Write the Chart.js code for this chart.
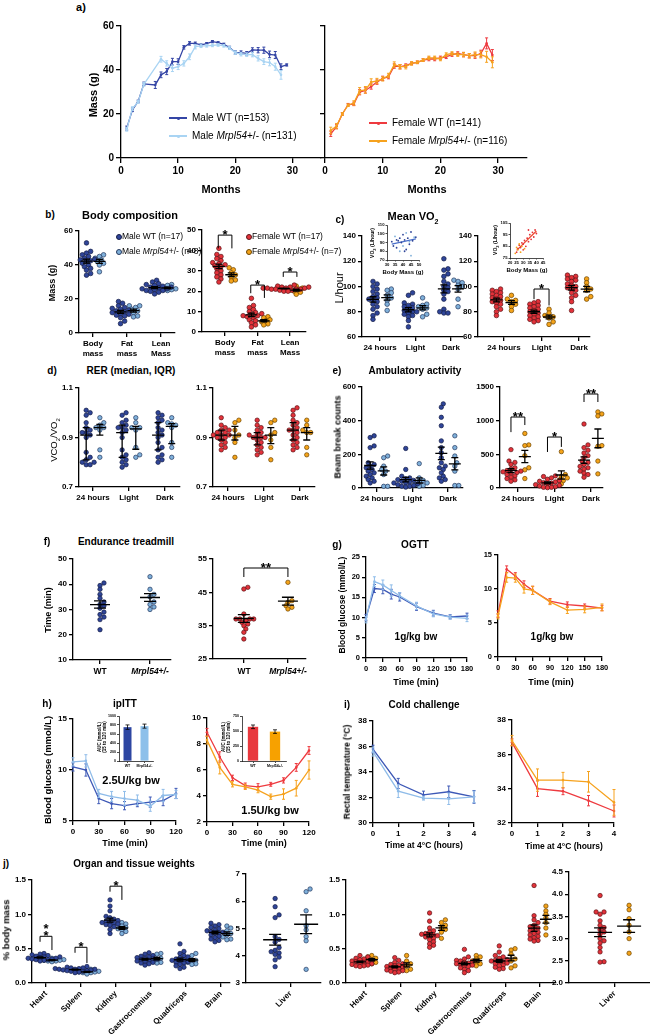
<!DOCTYPE html>
<html>
<head>
<meta charset="utf-8">
<title>Mrpl54 phenotype panels</title>
<script src="https://cdn.jsdelivr.net/npm/chart.js@4.4.1/dist/chart.umd.min.js"></script>
<style>
  body { margin: 0; width: 650px; height: 1034px; position: relative; overflow: hidden; background: #fff;
         font-family: "Liberation Sans", Arial, Helvetica, sans-serif; }
  canvas { position: absolute; }
  .t { position: absolute; white-space: nowrap; font-weight: bold; color: #000; line-height: 1; text-align: center; }
  .sw { position: absolute; }
</style>
</head>
<body>
<script>
// ---------- a) body mass with age ----------
const mWtMonths = [1, 2, 3, 4, 6, 7, 8, 9, 10, 11, 12, 13, 14, 15, 16, 17, 18, 19, 20, 21, 22, 23, 24, 25, 26, 27, 28, 29];
const mWtMass = [13.6, 21.9, 25.7, 33.7, 33.2, 37.8, 39.3, 43.8, 43.8, 50.3, 52.1, 52.1, 51.4, 52.0, 52.9, 52.4, 51.7, 50.2, 48.0, 47.9, 47.6, 49.1, 49.0, 49.0, 47.1, 46.8, 41.5, 42.3];
const mWtSem = [0.9, 0.8, 0.6, 0.8, 1.6, 1.3, 1.4, 1.5, 1.3, 0.8, 0.8, 0.6, 0.5, 0.5, 0.5, 0.5, 0.5, 0.6, 0.8, 0.8, 0.8, 1.0, 1.2, 1.4, 1.5, 1.6, 1.3, 0.5];
const mMutMonths = [1, 2, 3, 4, 7, 8, 9, 10, 11, 12, 13, 14, 15, 16, 17, 18, 19, 20, 21, 22, 23, 24, 25, 26, 27, 28];
const mMutMass = [13.0, 22.5, 25.5, 33.5, 44.9, 43.0, 40.8, 41.5, 43.0, 46.0, 50.6, 51.0, 51.0, 51.2, 51.4, 51.0, 50.0, 47.9, 47.2, 47.0, 47.0, 45.3, 43.8, 43.4, 41.5, 37.8];
const mMutSem = [0.8, 0.8, 0.6, 0.8, 1.3, 1.2, 1.5, 1.3, 1.2, 1.3, 1.0, 0.8, 0.6, 0.6, 0.6, 0.6, 0.7, 0.8, 0.8, 0.8, 1.0, 1.2, 1.3, 1.5, 1.6, 2.0];
const fMonths = [1, 2, 3, 4, 5, 6, 7, 8, 9, 10, 11, 12, 13, 14, 15, 16, 17, 18, 19, 20, 21, 22, 23, 24, 25, 26, 27, 28, 29];
const fWtMass = [11.0, 14.3, 20.0, 24.2, 24.6, 29.9, 30.7, 32.5, 34.5, 36.2, 36.8, 41.8, 41.5, 42.0, 43.0, 43.5, 44.5, 45.0, 45.0, 45.5, 46.0, 47.0, 47.5, 47.0, 46.5, 46.5, 47.5, 52.1, 46.8];
const fWtSem = [1.2, 1.0, 0.6, 0.6, 0.8, 1.2, 1.2, 1.2, 1.0, 1.0, 0.8, 1.0, 1.0, 0.8, 0.6, 0.6, 0.6, 0.8, 0.8, 0.8, 0.8, 0.8, 0.8, 1.0, 1.0, 1.2, 1.5, 2.5, 2.5];
const fMutMass = [12.5, 14.5, 20.0, 24.0, 25.0, 30.5, 31.0, 34.5, 35.0, 36.0, 37.5, 42.5, 41.5, 41.5, 43.0, 43.5, 44.5, 45.5, 45.5, 45.0, 47.0, 47.5, 47.0, 47.0, 46.5, 47.0, 47.0, 46.0, 43.5];
const fMutSem = [1.5, 1.2, 0.6, 0.6, 1.0, 1.5, 1.5, 1.5, 1.2, 1.0, 1.0, 1.2, 1.0, 1.0, 0.8, 0.6, 0.6, 0.8, 0.8, 0.8, 0.8, 0.8, 0.8, 1.0, 1.0, 1.2, 1.5, 2.5, 2.5];

// ---------- b) body composition (g) ----------
const compCats = [["Body", "mass"], ["Fat", "mass"], ["Lean", "Mass"]];
const bMaleWtBody = [53, 48, 47, 46, 45, 44, 43.5, 43, 42.5, 42, 41, 40, 39, 38, 37, 35, 34];
const bMaleMutBody = [46, 45, 44, 43, 42, 41, 40, 36];
const bMaleWtFat = [18.5, 17.5, 16, 15, 14.5, 14, 13.5, 13, 12.5, 12, 11.5, 11, 10.5, 10, 9, 7, 5.5];
const bMaleMutFat = [16, 16, 15, 14, 13, 12, 10, 9.5];
const bMaleWtLean = [31, 30, 29, 28.5, 28, 27.5, 27, 27, 26.5, 26, 26, 25.5, 25, 25, 24.5, 24, 23];
const bMaleMutLean = [28.5, 28, 27, 26.5, 26, 25.5, 25.5, 25];
const bFemWtBody = [41, 38, 37, 36, 35, 34, 33.5, 33, 32.5, 32, 31, 30, 29, 28, 27, 26, 24.5];
const bFemMutBody = [31.5, 30.5, 29, 28, 27, 25.5, 25];
const bFemWtFat = [16.5, 13, 12, 11, 10, 9.5, 9, 8.5, 8, 8, 7.5, 7, 6, 5.5, 4.5, 3.5, 2.5];
const bFemMutFat = [7.5, 7, 6, 5.5, 5, 4, 3.5];
const bFemWtLean = [23, 22.5, 22, 22, 22, 21.5, 21.5, 21.5, 21.5, 21, 21, 21, 21, 20.5, 20.5, 20, 20];
const bFemMutLean = [22.5, 21.5, 21, 20.5, 20, 19.5, 18.5];

// ---------- c) mean VO2 (L/hour) ----------
const phaseCats = ["24 hours", "Light", "Dark"];
const cMaleWt24 = [104, 102, 100, 98, 96, 94, 92, 91, 90, 89, 88, 86, 84, 82, 79, 77, 74];
const cMaleMut24 = [98, 97, 95, 93, 91, 89, 86, 81];
const cMaleWtLight = [95, 93, 87, 86, 85, 84, 83, 82, 81, 80, 80, 79, 78, 77, 76, 73, 68];
const cMaleMutLight = [91, 86, 85, 84, 83, 82, 78, 76];
const cMaleWtDark = [122, 114, 113, 110, 108, 104, 102, 100, 99, 97, 96, 94, 90, 82, 80, 79, 79];
const cMaleMutDark = [105, 104, 103, 101, 100, 98, 90, 84];
const cFemWt24 = [98, 97, 96, 95, 94, 93, 92, 91, 90, 89, 88, 87, 86, 84, 82, 80, 77];
const cFemMut24 = [93, 90, 89, 88, 86, 84, 81];
const cFemWtLight = [88, 87, 86, 85, 84, 83, 82, 81, 80, 79, 78, 77, 76, 75, 74, 73, 72];
const cFemMutLight = [82, 79, 77, 76, 75, 72, 70];
const cFemWtDark = [109, 108, 107, 106, 105, 104, 102, 101, 100, 99, 98, 97, 95, 93, 91, 88, 81];
const cFemMutDark = [106, 103, 100, 98, 97, 92, 90];
// insets: VO2 vs body mass
const insMaleWtMass = [33, 34, 36, 36, 37, 38, 39, 40, 41, 41, 42, 43, 44, 45, 46, 48];
const insMaleWtVo2 = [91, 86, 84, 93, 92, 95, 90, 99, 93, 80, 82, 95, 88, 102, 92, 96];
const insMaleMutMass = [35, 38, 40, 42, 44, 45, 47];
const insMaleMutVo2 = [97, 80, 86, 101, 91, 75, 96];
const insFemWtMass = [25, 26, 27, 28, 29, 30, 31, 32, 33, 34, 35, 36, 37, 38, 39, 40, 30, 34];
const insFemWtVo2 = [80, 83, 86, 84, 88, 87, 90, 85, 92, 89, 95, 91, 97, 93, 99, 96, 82, 99];
const insFemMutMass = [24, 25, 26, 27, 28, 29, 31];
const insFemMutVo2 = [79, 84, 82, 87, 80, 85, 83];

// ---------- d) RER ----------
const dMaleWt24 = [1.01, 1.0, 0.99, 0.96, 0.94, 0.93, 0.92, 0.92, 0.91, 0.9, 0.84, 0.82, 0.81, 0.8, 0.8, 0.79, 0.79];
const dMaleMut24 = [0.98, 0.96, 0.95, 0.94, 0.94, 0.93, 0.85, 0.82];
const dMaleWtLight = [1.0, 0.99, 0.97, 0.96, 0.95, 0.94, 0.94, 0.93, 0.92, 0.9, 0.85, 0.83, 0.82, 0.81, 0.8, 0.79, 0.78];
const dMaleMutLight = [0.98, 0.96, 0.94, 0.94, 0.93, 0.86, 0.83, 0.82];
const dMaleWtDark = [1.0, 0.99, 0.98, 0.97, 0.96, 0.94, 0.93, 0.92, 0.91, 0.9, 0.88, 0.86, 0.85, 0.83, 0.82, 0.81, 0.8];
const dMaleMutDark = [0.98, 0.96, 0.955, 0.95, 0.94, 0.88, 0.86, 0.82];
const dFemWt24 = [0.98, 0.95, 0.94, 0.93, 0.93, 0.92, 0.92, 0.91, 0.91, 0.91, 0.9, 0.9, 0.89, 0.88, 0.87, 0.86, 0.85];
const dFemMut24 = [0.97, 0.96, 0.93, 0.91, 0.9, 0.88, 0.82];
const dFemWtLight = [0.97, 0.95, 0.94, 0.93, 0.92, 0.91, 0.91, 0.9, 0.9, 0.9, 0.89, 0.88, 0.87, 0.86, 0.85, 0.84, 0.83];
const dFemMutLight = [0.97, 0.96, 0.92, 0.91, 0.89, 0.86, 0.81];
const dFemWtDark = [1.02, 1.01, 0.99, 0.97, 0.96, 0.95, 0.94, 0.93, 0.93, 0.92, 0.91, 0.9, 0.89, 0.88, 0.87, 0.86, 0.85];
const dFemMutDark = [0.97, 0.95, 0.93, 0.92, 0.92, 0.86, 0.83];

// ---------- e) ambulatory activity (beam breaks) ----------
const eMaleWt24 = [310, 300, 250, 240, 150, 140, 130, 120, 110, 100, 90, 80, 70, 60, 50, 40, 30];
const eMaleMut24 = [190, 180, 130, 110, 100, 80, 10, 10];
const eMaleWtLight = [235, 110, 70, 60, 55, 50, 45, 40, 35, 30, 30, 25, 20, 15, 10, 10, 5];
const eMaleMutLight = [145, 60, 45, 35, 30, 20, 15, 10];
const eMaleWtDark = [500, 480, 420, 370, 280, 240, 210, 180, 150, 130, 120, 110, 90, 70, 60, 50, 40];
const eMaleMutDark = [310, 240, 190, 150, 130, 100, 15, 15];
const eFemWt24 = [570, 400, 380, 350, 300, 280, 260, 250, 240, 230, 220, 200, 180, 160, 140, 120, 100];
const eFemMut24 = [810, 640, 630, 480, 300, 270, 140];
const eFemWtLight = [180, 170, 150, 130, 110, 100, 90, 80, 70, 60, 50, 40, 30, 20, 10, 10, 5];
const eFemMutLight = [540, 200, 170, 150, 120, 110, 60];
const eFemWtDark = [950, 640, 600, 560, 520, 480, 450, 400, 380, 350, 320, 300, 280, 250, 220, 200, 160];
const eFemMutDark = [1130, 1100, 1070, 630, 620, 400, 210];

// ---------- f) endurance treadmill (min) ----------
const fMaleWt = [40.5, 39.5, 38, 36, 34.5, 33, 32, 31.5, 30.5, 29, 28, 27, 26, 22];
const fMaleMut = [43, 38, 36, 35, 33, 32, 31, 30];
const fFemWt = [46.5, 46, 38.5, 37, 37, 37, 37, 36.5, 36, 35.5, 35, 34, 33, 31];
const fFemMut = [48, 42.5, 42, 41, 40.5, 40];

// ---------- g) OGTT ----------
const ogttTime = [0, 15, 30, 45, 60, 90, 120, 150, 180];
const gMaleWt = [10.0, 17.2, 17.0, 15.8, 15.1, 12.7, 11.1, 10.2, 10.4];
const gMaleWtSem = [0.8, 1.0, 1.1, 1.2, 1.0, 0.9, 0.7, 0.5, 0.7];
const gMaleMut = [9.5, 18.9, 18.1, 16.7, 15.4, 12.9, 10.9, 10.1, 9.8];
const gMaleMutSem = [0.8, 1.2, 1.2, 1.4, 0.8, 0.9, 0.7, 0.5, 0.8];
const gFemWt = [6.3, 12.9, 11.9, 10.7, 9.8, 8.2, 7.7, 7.5, 7.2];
const gFemWtSem = [0.5, 0.5, 0.5, 0.5, 0.6, 0.4, 0.4, 0.3, 0.4];
const gFemMut = [6.0, 11.7, 11.6, 10.0, 9.8, 8.1, 6.9, 7.0, 7.3];
const gFemMutSem = [0.4, 0.7, 0.6, 0.6, 0.6, 0.4, 0.5, 0.5, 0.5];

// ---------- h) ipITT ----------
const ittTime = [0, 15, 30, 45, 60, 75, 90, 105, 120];
const hMaleWt = [10.3, 10.0, 7.2, 6.7, 6.5, 6.7, 6.85, 7.0, 7.7];
const hMaleWtSem = [0.4, 0.6, 0.5, 0.5, 0.4, 0.3, 0.5, 0.5, 0.5];
const hMaleMut = [10.8, 10.9, 7.7, 7.4, 7.2, 7.05, 6.45, 7.5, 7.6];
const hMaleMutSem = [0.4, 0.6, 0.4, 0.5, 0.7, 0.5, 0.5, 0.6, 0.4];
const hFemWt = [8.9, 7.0, 5.4, 4.8, 4.7, 4.9, 5.2, 6.2, 7.5];
const hFemWtSem = [0.3, 0.4, 0.2, 0.2, 0.25, 0.15, 0.2, 0.3, 0.3];
const hFemMut = [8.3, 6.2, 4.9, 4.7, 4.45, 3.95, 4.15, 4.6, 6.0];
const hFemMutSem = [0.3, 0.5, 0.2, 0.2, 0.2, 0.2, 0.4, 0.6, 0.7];
const aucCats = ["WT", "Mrpl54+/-"];
const aucMale = [752, 775];
const aucMaleSem = [50, 45];
const aucFem = [570, 490];
const aucFemSem = [30, 30];

// ---------- i) cold challenge ----------
const coldHours = [0, 1, 2, 3, 4];
const iMaleWt = [35.8, 33.1, 32.2, 32.45, 32.05];
const iMaleWtSem = [0.3, 0.4, 0.3, 0.45, 0.5];
const iMaleMut = [35.6, 32.5, 31.95, 31.9, 32.05];
const iMaleMutSem = [0.35, 0.5, 0.15, 0.45, 0.45];
const iFemWt = [36.7, 34.0, 33.85, 33.3, 32.7];
const iFemWtSem = [0.2, 0.45, 0.2, 0.3, 0.35];
const iFemMut = [36.8, 34.5, 34.5, 34.4, 33.2];
const iFemMutSem = [0.3, 0.65, 0.45, 0.6, 0.75];

// ---------- j) organ weights (% body mass) ----------
const organCats = ["Heart", "Spleen", "Kidney", "Gastrocnemius", "Quadriceps", "Brain"];
const jMaleWt = [
  [0.43, 0.42, 0.41, 0.40, 0.39, 0.38, 0.38, 0.37, 0.37, 0.36, 0.36, 0.35, 0.35, 0.34, 0.34, 0.33, 0.32],
  [0.24, 0.23, 0.22, 0.22, 0.21, 0.21, 0.20, 0.20, 0.20, 0.19, 0.19, 0.18, 0.18, 0.17, 0.17, 0.16, 0.15],
  [1.21, 1.12, 1.05, 0.97, 0.95, 0.93, 0.91, 0.90, 0.89, 0.88, 0.87, 0.86, 0.85, 0.84, 0.82, 0.78, 0.72],
  [0.44, 0.42, 0.40, 0.39, 0.38, 0.37, 0.36, 0.35, 0.35, 0.34, 0.33, 0.32, 0.31, 0.30, 0.29, 0.28, 0.26],
  [0.57, 0.46, 0.43, 0.40, 0.38, 0.37, 0.35, 0.34, 0.33, 0.32, 0.31, 0.30, 0.29, 0.27, 0.25, 0.23, 0.21],
  [0.87, 0.85, 0.83, 0.81, 0.79, 0.77, 0.76, 0.75, 0.74, 0.73, 0.72, 0.70, 0.68, 0.66, 0.64, 0.62, 0.60]
];
const jMaleMut = [
  [0.36, 0.35, 0.34, 0.33, 0.33, 0.32, 0.32, 0.31],
  [0.20, 0.18, 0.17, 0.16, 0.16, 0.15, 0.15, 0.13],
  [0.88, 0.86, 0.83, 0.81, 0.79, 0.77, 0.75, 0.72],
  [0.43, 0.42, 0.38, 0.36, 0.34, 0.32, 0.30, 0.29],
  [0.43, 0.40, 0.35, 0.33, 0.32, 0.30, 0.28, 0.27],
  [0.83, 0.80, 0.76, 0.72, 0.70, 0.67, 0.64, 0.63]
];
const jFemWt = [
  [0.40, 0.38, 0.36, 0.35, 0.34, 0.33, 0.32, 0.31, 0.31, 0.30, 0.29, 0.28, 0.27, 0.26, 0.25, 0.25, 0.24],
  [0.37, 0.33, 0.30, 0.28, 0.27, 0.26, 0.25, 0.24, 0.23, 0.22, 0.21, 0.20, 0.19, 0.18, 0.17, 0.16, 0.15],
  [1.02, 0.90, 0.80, 0.76, 0.74, 0.72, 0.71, 0.70, 0.69, 0.68, 0.67, 0.65, 0.63, 0.60, 0.57, 0.55, 0.52],
  [0.49, 0.38, 0.35, 0.33, 0.32, 0.31, 0.30, 0.29, 0.28, 0.27, 0.26, 0.25, 0.24, 0.22, 0.20, 0.18, 0.15],
  [0.54, 0.45, 0.40, 0.38, 0.36, 0.34, 0.33, 0.32, 0.31, 0.30, 0.29, 0.28, 0.26, 0.25, 0.23, 0.21, 0.20],
  [1.42, 0.98, 0.92, 0.88, 0.84, 0.82, 0.80, 0.78, 0.76, 0.74, 0.72, 0.70, 0.68, 0.66, 0.64, 0.62, 0.61]
];
const jFemMut = [
  [0.40, 0.38, 0.36, 0.34, 0.32, 0.30, 0.28],
  [0.40, 0.32, 0.28, 0.25, 0.22, 0.20, 0.18],
  [0.92, 0.88, 0.84, 0.80, 0.78, 0.74, 0.65],
  [0.40, 0.38, 0.35, 0.32, 0.30, 0.28, 0.25],
  [0.50, 0.48, 0.42, 0.35, 0.32, 0.25, 0.22],
  [1.12, 1.05, 1.00, 0.95, 0.88, 0.80, 0.70]
];
const liverMaleWt = [6.1, 5.8, 5.5, 5.4, 4.7, 4.6, 4.5, 4.3, 4.2, 4.15, 4.1, 4.05, 3.95, 3.85, 3.6];
const liverMaleMut = [6.45, 6.35, 5.65, 5.1, 4.95, 4.7, 4.55, 3.5];
const liverFemWt = [3.97, 3.6, 3.6, 3.55, 3.4, 3.3, 3.25, 3.2, 3.15, 3.1, 3.0, 2.95, 2.9, 2.8, 2.7, 2.48, 2.47];
const liverFemMut = [3.75, 3.65, 3.45, 3.3, 3.15, 3.0, 2.67];

// ---------- style ----------
const FONT = "'Liberation Sans', Arial, Helvetica, sans-serif";
const DARK = "#3445a5", LIGHT = "#a9d4f3", RED = "#ee3a3f", ORANGE = "#f6a21e";
const G_DARK = "#3d58b6", G_LIGHT = "#8fbce9";
const MW = ["#2f4599", "#141c45"], MM = ["#7fb0da", "#24385e"];
const FW = ["#e3323a", "#5c1417"], FM = ["#f4a31a", "#6b4400"];

Chart.defaults.font.family = FONT;
Chart.defaults.color = "#000";
Chart.defaults.animation = false;
Chart.defaults.plugins.legend.display = false;
Chart.defaults.plugins.tooltip.enabled = false;

// ---------- helpers ----------
function mean(a) { return a.reduce((s, v) => s + v, 0) / a.length; }
function sem(a) {
  const m = mean(a);
  return Math.sqrt(a.reduce((s, v) => s + (v - m) * (v - m), 0) / (a.length - 1) / a.length);
}
function quant(s, q) {
  const p = (s.length - 1) * q, i = Math.floor(p);
  return s[i] + (s[Math.min(i + 1, s.length - 1)] - s[i]) * (p - i);
}
function fitLine(xs, ys) {
  const mx = mean(xs), my = mean(ys);
  let num = 0, den = 0;
  xs.forEach((x, i) => { num += (x - mx) * (ys[i] - my); den += (x - mx) * (x - mx); });
  const b = num / den;
  return { a: my - b * mx, b: b };
}

function label(x, y, html, size, o) {
  o = o || {};
  const d = document.createElement("div");
  d.className = "t";
  d.innerHTML = html;
  d.style.left = x + "px";
  d.style.top = y + "px";
  d.style.fontSize = size + "px";
  if (o.normal) d.style.fontWeight = "normal";
  let tf = o.left ? "translate(0,-50%)" : "translate(-50%,-50%)";
  if (o.rot) tf += " rotate(-90deg)";
  d.style.transform = tf;
  document.body.appendChild(d);
}

function swatchLine(x1, x2, y, color) {
  const d = document.createElement("div");
  d.className = "sw";
  d.style.cssText = "left:" + x1 + "px;top:" + (y - 0.75) + "px;width:" + (x2 - x1) + "px;height:1.5px;background:" + color;
  document.body.appendChild(d);
  const p = document.createElement("div");
  p.className = "sw";
  p.style.cssText = "left:" + ((x1 + x2) / 2 - 1.5) + "px;top:" + (y - 1.5) + "px;width:3px;height:3px;border-radius:50%;background:" + color;
  document.body.appendChild(p);
}

function swatchDot(x, y, c) {
  const d = document.createElement("div");
  d.className = "sw";
  d.style.cssText = "left:" + (x - 2.5) + "px;top:" + (y - 2.5) + "px;width:4px;height:4px;border-radius:50%;background:" + c[0] + ";border:0.7px solid " + c[1];
  document.body.appendChild(d);
}

// canvas whose plot area lands exactly on box (page coordinates)
function makeChart(box, config, yw, xh) {
  const pt = box.pt !== undefined ? box.pt : 8;
  const pr = box.pr !== undefined ? box.pr : 10;
  const w = Math.round(box.r - box.l + yw + pr), h = Math.round(box.b - box.t + pt + xh);
  const c = document.createElement("canvas");
  c.width = w;
  c.height = h;
  c.style.left = (box.l - yw) + "px";
  c.style.top = (box.t - pt) + "px";
  c.style.width = w + "px";
  c.style.height = h + "px";
  document.body.appendChild(c);
  config.options.layout = { padding: { top: pt, right: pr, left: 0, bottom: 0 } };
  config.options.responsive = false;
  config.options.maintainAspectRatio = false;
  config.options.devicePixelRatio = 1;
  return new Chart(c, config);
}

function axis(pos, min, max, ticks, o) {
  o = o || {};
  const bw = o.bw || 1.3;
  return {
    type: "linear", position: pos, min: min, max: max,
    border: { display: true, color: "#000", width: bw },
    grid: { display: true, drawOnChartArea: false, drawTicks: true, tickLength: o.tl || 4, color: "#000", lineWidth: bw },
    ticks: {
      display: o.show !== false, autoSkip: false, maxRotation: o.rot || 0, minRotation: o.rot || 0,
      padding: o.pad === undefined ? 2 : o.pad,
      font: { size: o.fs || 8, weight: "bold" }, color: "#000",
      callback: o.cb || (v => (o.dec ? v.toFixed(o.dec) : String(v)))
    },
    afterBuildTicks: s => { s.ticks = ticks.map(v => ({ value: v })); },
    afterFit: s => {
      if (pos === "left") s.width = o.size || 30; else s.height = o.size || 25;
      s.paddingLeft = 0; s.paddingRight = 0; s.paddingTop = 0; s.paddingBottom = 0;
    }
  };
}

// error bars for line / bar datasets (dataset.err holds the SEM values)
const errPlugin = {
  id: "errBars",
  afterDatasetDraw(ch, args) {
    const ds = ch.data.datasets[args.index];
    if (!ds.err) return;
    const ctx = ch.ctx, X = ch.scales.x, Y = ch.scales.y;
    ctx.save();
    ctx.strokeStyle = ds.errColor || ds.borderColor;
    ctx.lineWidth = ds.errWidth || 1;
    ds.data.forEach((p, i) => {
      const xv = typeof p === "object" ? p.x : i, yv = typeof p === "object" ? p.y : p;
      const x = X.getPixelForValue(xv);
      const y1 = Y.getPixelForValue(yv - ds.err[i]), y2 = Y.getPixelForValue(yv + ds.err[i]);
      ctx.beginPath();
      ctx.moveTo(x, y1); ctx.lineTo(x, y2);
      ctx.moveTo(x - ds.cap, y1); ctx.lineTo(x + ds.cap, y1);
      ctx.moveTo(x - ds.cap, y2); ctx.lineTo(x + ds.cap, y2);
      ctx.stroke();
    });
    ctx.restore();
  }
};

// simple beeswarm: horizontal pixel offset for each value
function swarm(vals, ppu, r) {
  const order = vals.map((v, i) => i).sort((a, b) => vals[a] - vals[b]);
  const placed = [], off = vals.map(() => 0);
  order.forEach(i => {
    const y = vals[i] * ppu;
    for (let k = 0; k < 60; k++) {
      const dx = k === 0 ? 0 : (k % 2 ? 1 : -1) * Math.ceil(k / 2) * r * 0.9;
      const hit = placed.some(p => (p.x - dx) * (p.x - dx) + (p.y - y) * (p.y - y) < (1.55 * r) * (1.55 * r));
      if (!hit) { off[i] = dx; placed.push({ x: dx, y: y }); break; }
    }
  });
  return off;
}

function statsPlugin(o) {
  return {
    id: "stats",
    afterDatasetsDraw(ch) {
      const ctx = ch.ctx, X = ch.scales.x, Y = ch.scales.y;
      ctx.save();
      ctx.strokeStyle = "#000";
      ctx.lineWidth = 1.3;
      o.groups.forEach(g => g.vals.forEach((vals, c) => {
        const cx = X.getPixelForValue((g.c0 || 0) + c + g.off);
        let mid, lo, hi;
        if (o.stat === "iqr") {
          const s = vals.slice().sort((a, b) => a - b);
          mid = quant(s, 0.5); lo = quant(s, 0.25); hi = quant(s, 0.75);
        } else {
          mid = mean(vals);
          const se = sem(vals);
          lo = mid - se; hi = mid + se;
        }
        const ym = Y.getPixelForValue(mid), yl = Y.getPixelForValue(lo), yh = Y.getPixelForValue(hi);
        ctx.beginPath();
        ctx.moveTo(cx - o.mw, ym); ctx.lineTo(cx + o.mw, ym);
        ctx.moveTo(cx, yl); ctx.lineTo(cx, yh);
        ctx.moveTo(cx - o.cw, yl); ctx.lineTo(cx + o.cw, yl);
        ctx.moveTo(cx - o.cw, yh); ctx.lineTo(cx + o.cw, yh);
        ctx.stroke();
      }));
      ctx.lineWidth = 1;
      ctx.fillStyle = "#000";
      ctx.font = "bold 13px " + FONT;
      ctx.textAlign = "center";
      ctx.textBaseline = "alphabetic";
      (o.brackets || []).forEach(b => {
        const x1 = X.getPixelForValue(b.x1), x2 = X.getPixelForValue(b.x2), yt = Y.getPixelForValue(b.top);
        ctx.beginPath();
        ctx.moveTo(x1, Y.getPixelForValue(b.l1));
        ctx.lineTo(x1, yt);
        ctx.lineTo(x2, yt);
        ctx.lineTo(x2, Y.getPixelForValue(b.l2));
        ctx.stroke();
        b.text.split("\n").reverse().forEach((t, i) => ctx.fillText(t, (x1 + x2) / 2, yt + 4 - i * 7));
      });
      ctx.restore();
    }
  };
}

function dotPlot(box, o) {
  const catPx = (box.r - box.l) / (o.xMax - o.xMin);
  const ppu = (box.b - box.t) / (o.yMax - o.yMin);
  const r = o.r || 2.3;
  const xh = o.xh || 25;
  const datasets = o.groups.map(g => {
    const pts = [];
    g.vals.forEach((vals, c) => {
      const off = swarm(vals, ppu, r);
      vals.forEach((v, i) => pts.push({ x: (g.c0 || 0) + c + g.off + off[i] / catPx, y: v }));
    });
    return { data: pts, pointRadius: r, pointBackgroundColor: g.col[0], pointBorderColor: g.col[1], pointBorderWidth: 0.7, showLine: false, clip: false };
  });
  const cats = o.cats;
  return makeChart(box, {
    type: "scatter",
    data: { datasets: datasets },
    options: {
      scales: {
        x: axis("bottom", o.xMin, o.xMax, cats.map((c, i) => i), { cb: v => cats[Math.round(v)], show: o.xLabels !== false, rot: o.rot, size: xh, pad: o.xpad }),
        y: axis("left", o.yMin, o.yMax, o.yTicks, { dec: o.dec, size: 30 })
      }
    },
    plugins: [statsPlugin(o)]
  }, 30, xh);
}

function lineChart(box, o) {
  const datasets = o.series.map(s => ({
    data: s.x.map((x, i) => ({ x: x, y: s.y[i] })),
    err: s.err, cap: o.cap || 1.5,
    borderColor: s.color, backgroundColor: s.color, borderWidth: o.lw || 1.3,
    pointRadius: o.pr || 1.3, pointBorderWidth: 0, pointBackgroundColor: s.color, tension: 0, clip: false
  }));
  return makeChart(box, {
    type: "line",
    data: { datasets: datasets },
    options: {
      scales: {
        x: axis("bottom", o.xMin, o.xMax, o.xTicks, { fs: o.fs, size: 25, tl: o.tl }),
        y: axis("left", o.yMin, o.yMax, o.yTicks, { fs: o.fs, size: 30, tl: o.tl, show: o.yLabels !== false })
      }
    },
    plugins: [errPlugin]
  }, 30, 25);
}

function barInset(box, o) {
  return makeChart(box, {
    type: "bar",
    data: {
      labels: aucCats,
      datasets: [{ data: o.vals, err: o.errs, cap: 2, errColor: "#000", errWidth: 0.8, backgroundColor: o.colors, borderWidth: 0, barPercentage: o.bp, categoryPercentage: 1 }]
    },
    options: {
      scales: {
        x: {
          type: "category", offset: true,
          border: { display: true, color: "#000", width: 0.7 },
          grid: { display: true, drawOnChartArea: false, tickLength: 2, color: "#000", lineWidth: 0.7, offset: false },
          ticks: { font: { size: 3.6, weight: "bold" }, padding: 1, maxRotation: 0, minRotation: 0, autoSkip: false },
          afterFit: s => { s.height = 8; s.paddingLeft = 0; s.paddingRight = 0; }
        },
        y: axis("left", 0, o.yMax, o.yTicks, { fs: 3.6, size: 16, tl: 2, bw: 0.7, pad: 1 })
      }
    },
    plugins: [errPlugin]
  }, 16, 8);
}

function scatterInset(box, o) {
  const datasets = o.sets.map(s => ({
    data: s.x.map((x, i) => ({ x: x, y: s.y[i] })), pointRadius: 0.9, pointBackgroundColor: s.color, pointBorderWidth: 0, showLine: false
  }));
  const f = fitLine(o.fit.x, o.fit.y);
  const x0 = Math.min.apply(null, o.fit.x), x1 = Math.max.apply(null, o.fit.x);
  datasets.push({ data: [{ x: x0, y: f.a + f.b * x0 }, { x: x1, y: f.a + f.b * x1 }], showLine: true, borderColor: o.fit.color, borderWidth: 1.3, pointRadius: 0 });
  return makeChart(box, {
    type: "scatter",
    data: { datasets: datasets },
    options: {
      scales: {
        x: axis("bottom", o.xMin, o.xMax, o.xTicks, { fs: 4.2, size: 8, tl: 1.5, bw: 0.7, pad: 1 }),
        y: axis("left", o.yMin, o.yMax, o.yTicks, { fs: 4.2, size: 12, tl: 1.5, bw: 0.7, pad: 1 })
      }
    }
  }, 12, 8);
}

// ================= panel a =================
lineChart({ l: 121, t: 26, r: 321, b: 158 }, {
  series: [{ x: mMutMonths, y: mMutMass, err: mMutSem, color: LIGHT }, { x: mWtMonths, y: mWtMass, err: mWtSem, color: DARK }],
  xMin: 0, xMax: 35, xTicks: [0, 10, 20, 30], yMin: 0, yMax: 60, yTicks: [0, 20, 40, 60], fs: 10, tl: 5
});
lineChart({ l: 325, t: 26, r: 527, b: 158 }, {
  series: [{ x: fMonths, y: fMutMass, err: fMutSem, color: ORANGE }, { x: fMonths, y: fWtMass, err: fWtSem, color: RED }],
  xMin: 0, xMax: 35, xTicks: [0, 10, 20, 30], yMin: 0, yMax: 60, yTicks: [0, 20, 40, 60], fs: 10, tl: 5, yLabels: false
});
label(81, 7, "a)", 11);
label(93, 95, "Mass (g)", 11, { rot: 1 });
label(221, 189, "Months", 11);
label(427, 189, "Months", 11);
swatchLine(169, 187, 118, DARK);
label(192, 118, "Male WT (n=153)", 10, { left: 1, normal: 1 });
swatchLine(169, 187, 136, LIGHT);
label(192, 136, "Male <i>Mrpl54</i>+/- (n=131)", 10, { left: 1, normal: 1 });
swatchLine(369, 387, 123, RED);
label(392, 123, "Female WT (n=141)", 10, { left: 1, normal: 1 });
swatchLine(369, 387, 141, ORANGE);
label(392, 141, "Female <i>Mrpl54</i>+/- (n=116)", 10, { left: 1, normal: 1 });

// ================= panel b =================
dotPlot({ l: 79, t: 231, r: 175, b: 333 }, {
  cats: compCats, xMin: -0.41, xMax: 2.41, yMin: 0, yMax: 60, yTicks: [0, 20, 40, 60], stat: "sem", mw: 6, cw: 3.5,
  groups: [{ vals: [bMaleWtBody, bMaleWtFat, bMaleWtLean], col: MW, off: -0.19 }, { vals: [bMaleMutBody, bMaleMutFat, bMaleMutLean], col: MM, off: 0.19 }]
});
dotPlot({ l: 202, t: 230, r: 306, b: 332 }, {
  cats: compCats, xMin: -0.71, xMax: 2.49, yMin: 0, yMax: 50, yTicks: [0, 10, 20, 30, 40, 50], stat: "sem", mw: 6, cw: 3.5,
  groups: [{ vals: [bFemWtBody, bFemWtFat, bFemWtLean], col: FW, off: -0.19 }, { vals: [bFemMutBody, bFemMutFat, bFemMutLean], col: FM, off: 0.19 }],
  brackets: [
    { x1: -0.21, x2: 0.21, top: 47.5, l1: 41, l2: 41, text: "*" },
    { x1: 0.79, x2: 1.21, top: 23, l1: 19, l2: 16.7, text: "*" },
    { x1: 1.79, x2: 2.21, top: 29.4, l1: 27, l2: 27, text: "*" }
  ]
});
label(50, 215, "b)", 10);
label(130, 215, "Body composition", 11);
label(52, 283, "Mass (g)", 9, { rot: 1 });
swatchDot(118, 236, MW);
label(122, 236, "Male WT (n=17)", 8.5, { left: 1, normal: 1 });
swatchDot(118, 251, MM);
label(122, 251, "Male <i>Mrpl54</i>+/- (n=8)", 8.5, { left: 1, normal: 1 });
swatchDot(248, 236, FW);
label(252, 236, "Female WT (n=17)", 8.5, { left: 1, normal: 1 });
swatchDot(248, 251, FM);
label(252, 251, "Female <i>Mrpl54</i>+/- (n=7)", 8.5, { left: 1, normal: 1 });

// ================= panel c =================
dotPlot({ l: 362, t: 236, r: 463, b: 337 }, {
  cats: phaseCats, xMin: -0.51, xMax: 2.34, yMin: 60, yMax: 140, yTicks: [60, 80, 100, 120, 140], stat: "sem", mw: 6, cw: 3.5,
  groups: [{ vals: [cMaleWt24, cMaleWtLight, cMaleWtDark], col: MW, off: -0.2 }, { vals: [cMaleMut24, cMaleMutLight, cMaleMutDark], col: MM, off: 0.2 }]
});
dotPlot({ l: 478, t: 236, r: 590, b: 337 }, {
  cats: phaseCats, xMin: -0.69, xMax: 2.29, yMin: 60, yMax: 140, yTicks: [60, 80, 100, 120, 140], stat: "sem", mw: 6, cw: 3.5,
  groups: [{ vals: [cFemWt24, cFemWtLight, cFemWtDark], col: FW, off: -0.2 }, { vals: [cFemMut24, cFemMutLight, cFemMutDark], col: FM, off: 0.2 }],
  brackets: [{ x1: 0.8, x2: 1.2, top: 98, l1: 90, l2: 85, text: "*" }]
});
scatterInset({ l: 387, t: 225, r: 419, b: 260, pt: 4, pr: 5 }, {
  xMin: 30, xMax: 50, xTicks: [30, 35, 40, 45, 50], yMin: 70, yMax: 110, yTicks: [70, 80, 90, 100, 110],
  sets: [{ x: insMaleMutMass, y: insMaleMutVo2, color: MM[0] }, { x: insMaleWtMass, y: insMaleWtVo2, color: MW[0] }],
  fit: { x: insMaleWtMass, y: insMaleWtVo2, color: "#4a6fc9" }
});
scatterInset({ l: 510, t: 223, r: 543, b: 258, pt: 4, pr: 5 }, {
  xMin: 20, xMax: 45, xTicks: [20, 25, 30, 35, 40, 45], yMin: 75, yMax: 105, yTicks: [75, 85, 95, 105],
  sets: [{ x: insFemMutMass, y: insFemMutVo2, color: FM[0] }, { x: insFemWtMass, y: insFemWtVo2, color: FW[0] }],
  fit: { x: insFemWtMass, y: insFemWtVo2, color: "#ef4a2f" }
});
label(340, 220, "c)", 10);
label(413, 218, "Mean VO<sub style='font-size:7px'>2</sub>", 11);
label(339, 288, "L/hour", 11, { rot: 1, normal: 1 });
label(373, 243, "VO<sub style='font-size:4px'>2</sub> (L/hour)", 5, { rot: 1 });
label(403, 272, "Body Mass (g)", 6);
label(496, 240, "VO<sub style='font-size:4px'>2</sub> (L/hour)", 5, { rot: 1 });
label(527, 270, "Body Mass (g)", 6);

// ================= panel d =================
dotPlot({ l: 79, t: 388, r: 180, b: 487 }, {
  cats: phaseCats, xMin: -0.39, xMax: 2.42, yMin: 0.7, yMax: 1.1, yTicks: [0.7, 0.9, 1.1], dec: 1, stat: "iqr", mw: 6, cw: 3.5, r: 2.2,
  groups: [{ vals: [dMaleWt24, dMaleWtLight, dMaleWtDark], col: MW, off: -0.19 }, { vals: [dMaleMut24, dMaleMutLight, dMaleMutDark], col: MM, off: 0.19 }]
});
dotPlot({ l: 213, t: 388, r: 315, b: 487 }, {
  cats: phaseCats, xMin: -0.42, xMax: 2.42, yMin: 0.7, yMax: 1.1, yTicks: [0.7, 0.9, 1.1], dec: 1, stat: "iqr", mw: 6, cw: 3.5, r: 2.2,
  groups: [{ vals: [dFemWt24, dFemWtLight, dFemWtDark], col: FW, off: -0.19 }, { vals: [dFemMut24, dFemMutLight, dFemMutDark], col: FM, off: 0.19 }]
});
label(52, 371, "d)", 10);
label(131, 371, "RER (median, IQR)", 10);
label(55, 440, "VCO<sub style='font-size:6px'>2</sub>/VO<sub style='font-size:6px'>2</sub>", 9.5, { rot: 1, normal: 1 });

// ================= panel e =================
dotPlot({ l: 362, t: 387, r: 463, b: 488 }, {
  cats: phaseCats, xMin: -0.42, xMax: 2.42, yMin: 0, yMax: 600, yTicks: [0, 200, 400, 600], stat: "sem", mw: 6, cw: 3.5, r: 2.2,
  groups: [{ vals: [eMaleWt24, eMaleWtLight, eMaleWtDark], col: MW, off: -0.19 }, { vals: [eMaleMut24, eMaleMutLight, eMaleMutDark], col: MM, off: 0.19 }]
});
dotPlot({ l: 500, t: 387, r: 603, b: 488 }, {
  cats: phaseCats, xMin: -0.49, xMax: 2.33, yMin: 0, yMax: 1500, yTicks: [0, 500, 1000, 1500], stat: "sem", mw: 6, cw: 3.5, r: 2.2,
  groups: [{ vals: [eFemWt24, eFemWtLight, eFemWtDark], col: FW, off: -0.19 }, { vals: [eFemMut24, eFemMutLight, eFemMutDark], col: FM, off: 0.19 }],
  brackets: [
    { x1: -0.19, x2: 0.19, top: 1054, l1: 830, l2: 935, text: "**" },
    { x1: 0.81, x2: 1.19, top: 757, l1: 535, l2: 610, text: "*" },
    { x1: 1.81, x2: 2.19, top: 1396, l1: 1277, l2: 1277, text: "**" }
  ]
});
label(337, 371, "e)", 10);
label(415, 371, "Ambulatory activity", 10);
label(338, 437, "Beam break counts", 9, { rot: 1 });

// ================= panel f =================
dotPlot({ l: 73, t: 559, r: 171, b: 660 }, {
  cats: ["WT", "Mrpl54+/-"], xLabels: false, xMin: -0.54, xMax: 1.42, yMin: 10, yMax: 50, yTicks: [10, 20, 30, 40, 50], stat: "sem", mw: 10, cw: 6, r: 2.2,
  groups: [{ vals: [fMaleWt], col: MW, off: 0 }, { vals: [fMaleMut], col: MM, off: 0, c0: 1 }]
});
dotPlot({ l: 213, t: 559, r: 306, b: 659 }, {
  cats: ["WT", "Mrpl54+/-"], xLabels: false, xMin: -0.7, xMax: 1.41, yMin: 25, yMax: 55, yTicks: [25, 35, 45, 55], stat: "sem", mw: 10, cw: 6, r: 2.2,
  groups: [{ vals: [fFemWt], col: FW, off: 0 }, { vals: [fFemMut], col: FM, off: 0, c0: 1 }],
  brackets: [{ x1: 0, x2: 1, top: 52.3, l1: 49.6, l2: 49.6, text: "**" }]
});
label(47, 542, "f)", 10);
label(126, 542, "Endurance treadmill", 10);
label(48, 610, "Time (min)", 9, { rot: 1 });
label(100, 671, "WT", 8.5);
label(150, 671, "<i>Mrpl54+/-</i>", 8.5);
label(244, 671, "WT", 8.5);
label(288, 671, "<i>Mrpl54+/-</i>", 8.5);

// ================= panel g =================
lineChart({ l: 366, t: 557, r: 467, b: 658 }, {
  series: [{ x: ogttTime, y: gMaleMut, err: gMaleMutSem, color: G_LIGHT }, { x: ogttTime, y: gMaleWt, err: gMaleWtSem, color: G_DARK }],
  xMin: 0, xMax: 180, xTicks: [0, 30, 60, 90, 120, 150, 180], yMin: 0, yMax: 25, yTicks: [0, 5, 10, 15, 20, 25], fs: 7.5
});
lineChart({ l: 498, t: 555, r: 602, b: 657 }, {
  series: [{ x: ogttTime, y: gFemMut, err: gFemMutSem, color: ORANGE }, { x: ogttTime, y: gFemWt, err: gFemWtSem, color: RED }],
  xMin: 0, xMax: 180, xTicks: [0, 30, 60, 90, 120, 150, 180], yMin: 0, yMax: 15, yTicks: [0, 5, 10, 15], fs: 7.5
});
label(337, 545, "g)", 10);
label(415, 545, "OGTT", 10);
label(342, 605, "Blood glucose (mmol/L)", 8.5, { rot: 1 });
label(416, 637, "1g/kg bw", 10);
label(552, 637, "1g/kg bw", 10);
label(416, 682, "Time (min)", 9);
label(551, 682, "Time (min)", 9);

// ================= panel h =================
lineChart({ l: 73, t: 719, r: 176, b: 821 }, {
  series: [{ x: ittTime, y: hMaleMut, err: hMaleMutSem, color: G_LIGHT }, { x: ittTime, y: hMaleWt, err: hMaleWtSem, color: G_DARK }],
  xMin: 0, xMax: 120, xTicks: [0, 30, 60, 90, 120], yMin: 5, yMax: 15, yTicks: [5, 10, 15], fs: 8
});
lineChart({ l: 207, t: 718, r: 309, b: 822 }, {
  series: [{ x: ittTime, y: hFemMut, err: hFemMutSem, color: ORANGE }, { x: ittTime, y: hFemWt, err: hFemWtSem, color: RED }],
  xMin: 0, xMax: 120, xTicks: [0, 30, 60, 90, 120], yMin: 2, yMax: 10, yTicks: [2, 4, 6, 8, 10], fs: 8
});
barInset({ l: 119, t: 716, r: 153, b: 761, pt: 4, pr: 4 }, {
  vals: aucMale, errs: aucMaleSem, colors: ["#2d46a2", "#8dc0ea"], bp: 0.47, yMax: 1000, yTicks: [0, 200, 400, 600, 800, 1000]
});
barInset({ l: 242, t: 716, r: 286, b: 761, pt: 4, pr: 4 }, {
  vals: aucFem, errs: aucFemSem, colors: ["#e8383d", "#f7a100"], bp: 0.47, yMax: 750, yTicks: [0, 250, 500, 750]
});
label(47, 704, "h)", 10);
label(125, 704, "ipITT", 10);
label(48, 770, "Blood glucose (mmol/L)", 9.5, { rot: 1 });
label(102, 737, "AUC (mmol/L)<br>(15 to 120 min)", 4.5, { rot: 1 });
label(226, 737, "AUC (mmol/L)<br>(15 to 120 min)", 4.5, { rot: 1 });
label(131, 780, "2.5U/kg bw", 11);
label(270, 810, "1.5U/kg bw", 11);
label(125, 843, "Time (min)", 9);
label(264, 843, "Time (min)", 9);

// ================= panel i =================
lineChart({ l: 373, t: 721, r: 474, b: 823 }, {
  series: [{ x: coldHours, y: iMaleMut, err: iMaleMutSem, color: G_LIGHT }, { x: coldHours, y: iMaleWt, err: iMaleWtSem, color: G_DARK }],
  xMin: 0, xMax: 4, xTicks: [0, 1, 2, 3, 4], yMin: 30, yMax: 38, yTicks: [30, 32, 34, 36, 38], fs: 8
});
lineChart({ l: 512, t: 720, r: 614, b: 823 }, {
  series: [{ x: coldHours, y: iFemMut, err: iFemMutSem, color: ORANGE }, { x: coldHours, y: iFemWt, err: iFemWtSem, color: RED }],
  xMin: 0, xMax: 4, xTicks: [0, 1, 2, 3, 4], yMin: 32, yMax: 38, yTicks: [32, 34, 36, 38], fs: 8
});
label(347, 705, "i)", 10);
label(424, 705, "Cold challenge", 10);
label(347, 772, "Rectal temperature (°C)", 8.5, { rot: 1 });
label(424, 845, "Time at 4°C (hours)", 8.5);
label(564, 846, "Time at 4°C (hours)", 8.5);

// ================= panel j =================
dotPlot({ l: 32, t: 880, r: 230, b: 983 }, {
  cats: organCats, xMin: -0.4, xMax: 5.26, yMin: 0, yMax: 1.5, yTicks: [0, 0.5, 1, 1.5], dec: 1, stat: "sem", mw: 6, cw: 3.5, r: 2.2, rot: 45, xh: 55,
  groups: [{ vals: jMaleWt, col: MW, off: -0.17 }, { vals: jMaleMut, col: MM, off: 0.17 }],
  brackets: [
    { x1: -0.17, x2: 0.17, top: 0.68, l1: 0.6, l2: 0.48, text: "*\n*" },
    { x1: 0.83, x2: 1.17, top: 0.52, l1: 0.44, l2: 0.29, text: "*" },
    { x1: 1.83, x2: 2.17, top: 1.41, l1: 1.33, l2: 1.21, text: "*" }
  ]
});
dotPlot({ l: 246, t: 874, r: 321, b: 983 }, {
  cats: ["Liver"], xMin: -1.44, xMax: 0.98, yMin: 3, yMax: 7, yTicks: [3, 4, 5, 6, 7], stat: "sem", mw: 12, cw: 6, r: 2.2, rot: 45, xh: 55,
  groups: [{ vals: [liverMaleWt], col: MW, off: -0.5 }, { vals: [liverMaleMut], col: MM, off: 0.5 }]
});
dotPlot({ l: 346, t: 880, r: 556, b: 983 }, {
  cats: organCats, xMin: -0.57, xMax: 5.46, yMin: 0, yMax: 1.5, yTicks: [0, 0.5, 1, 1.5], dec: 1, stat: "sem", mw: 6, cw: 3.5, r: 2.2, rot: 45, xh: 55,
  groups: [{ vals: jFemWt, col: FW, off: -0.17 }, { vals: jFemMut, col: FM, off: 0.17 }]
});
dotPlot({ l: 569, t: 872, r: 650, b: 983 }, {
  cats: ["Liver"], xMin: -1.57, xMax: 1.22, yMin: 2, yMax: 4.5, yTicks: [2, 2.5, 3, 3.5, 4, 4.5], dec: 1, stat: "sem", mw: 12, cw: 6, r: 2.2, rot: 45, xh: 55,
  groups: [{ vals: [liverFemWt], col: FW, off: -0.5 }, { vals: [liverFemMut], col: FM, off: 0.5 }]
});
label(6, 864, "j)", 10);
label(134, 864, "Organ and tissue weights", 10);
label(6, 930, "% body mass", 9.5, { rot: 1 });
</script>
</body>
</html>
